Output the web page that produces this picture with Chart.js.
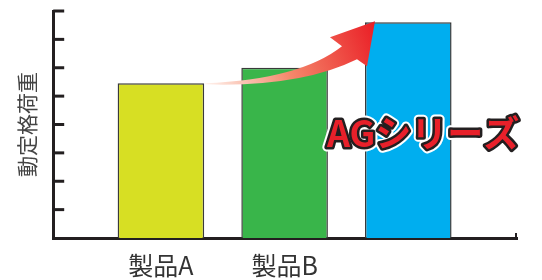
<!DOCTYPE html>
<html>
<head>
<meta charset="utf-8">
<script src="https://cdn.jsdelivr.net/npm/chart.js@4/dist/chart.umd.min.js"></script>
<style>
  html, body { margin: 0; padding: 0; background: #fff; }
  #wrap { width: 542px; height: 280px; }
</style>
</head>
<body>
<div id="wrap"><canvas id="chart"></canvas></div>
<script>
const categories = ['製品A', '製品B', ''];
const values = [5.45, 6.0, 7.6];
const barColors = ['#d7df23', '#39b54a', '#00aeef'];
const yTitle = '動定格荷重';
const badge = 'AGシリーズ';

const FONT = '"Noto Sans CJK JP", "Noto Sans", sans-serif';

// inward tick marks on the y axis + small end tick on x axis
const axisTicks = {
  id: 'axisTicks',
  afterDraw(chart) {
    const { ctx, chartArea, scales } = chart;
    const y = scales.y;
    ctx.save();
    ctx.strokeStyle = '#231f20';
    ctx.lineWidth = 3;
    y.ticks.forEach(t => {
      if (t.value === 0) return;
      const py = y.getPixelForValue(t.value);
      ctx.beginPath();
      ctx.moveTo(chartArea.left, py);
      ctx.lineTo(chartArea.left + 11, py);
      ctx.stroke();
    });
    ctx.lineWidth = 2;
    ctx.beginPath();
    ctx.moveTo(chartArea.right - 1, chartArea.bottom);
    ctx.lineTo(chartArea.right - 1, chartArea.bottom - 5);
    ctx.stroke();
    ctx.restore();
  }
};

// red arrow from bar A to bar C, and the series badge
const decor = {
  id: 'decor',
  afterDatasetsDraw(chart) {
    const { ctx, scales } = chart;
    const bars = chart.getDatasetMeta(0).data;
    const a = bars[0], c = bars[2];
    const tx = a.x + a.width / 2 + 1, ty = a.y;
    const px = c.x - c.width / 2 + 10, py = c.y - 1;

    ctx.save();
    const g = ctx.createLinearGradient(tx, ty, px, py);
    g.addColorStop(0, '#fff3ee');
    g.addColorStop(0.45, '#f4896c');
    g.addColorStop(1, '#ea1d25');
    ctx.fillStyle = g;
    ctx.beginPath();
    ctx.moveTo(tx, ty);
    ctx.quadraticCurveTo(tx + 95, ty - 4, px - 33, py + 25);
    ctx.lineTo(px - 45, py + 16);
    ctx.lineTo(px, py);
    ctx.lineTo(px - 8, py + 45);
    ctx.lineTo(px - 18, py + 38);
    ctx.quadraticCurveTo(tx + 95, ty + 4, tx, ty + 1);
    ctx.closePath();
    ctx.fill();
    ctx.restore();

    const bx = scales.x.getPixelForValue(2.12);
    const by = scales.y.getPixelForValue(3.7);
    ctx.save();
    ctx.font = 'bold 36px ' + FONT;
    ctx.textAlign = 'center';
    ctx.textBaseline = 'middle';
    ctx.lineJoin = 'round';
    ctx.strokeStyle = '#ffffff';
    ctx.lineWidth = 9;
    ctx.strokeText(badge, bx, by);
    ctx.strokeStyle = '#231f20';
    ctx.lineWidth = 5;
    ctx.strokeText(badge, bx, by);
    ctx.fillStyle = '#e8202a';
    ctx.fillText(badge, bx, by);
    ctx.restore();
  }
};

new Chart(document.getElementById('chart'), {
  type: 'bar',
  data: {
    datasets: [{
      data: values.map((v, i) => ({ x: i, y: v })),
      backgroundColor: barColors,
      borderColor: '#3a3a3a',
      borderWidth: 1.5,
      barPercentage: 0.7,
      categoryPercentage: 1
    }]
  },
  options: {
    responsive: true,
    maintainAspectRatio: false,
    animation: false,
    layout: { padding: { top: 11, right: 25, left: 0, bottom: -12 } },
    plugins: { legend: { display: false }, tooltip: { enabled: false } },
    scales: {
      x: {
        type: 'linear',
        offset: false,
        min: -0.871,
        max: 2.879,
        grid: { display: false, drawTicks: false, offset: false },
        border: { display: true, color: '#231f20', width: 3 },
        ticks: {
          stepSize: 1,
          includeBounds: false,
          autoSkip: false,
          maxRotation: 0,
          padding: 12,
          color: '#333',
          font: { family: FONT, size: 25, lineHeight: 1.2 },
          callback: v => Number.isInteger(v) ? (categories[v] || '') : ''
        }
      },
      y: {
        min: 0,
        max: 8,
        grid: { display: false, drawTicks: false },
        border: { display: true, color: '#231f20', width: 3 },
        ticks: { display: false, stepSize: 1 },
        title: {
          display: true,
          text: yTitle,
          color: '#444',
          padding: 14,
          font: { family: FONT, size: 21, lineHeight: 1.2 }
        }
      }
    }
  },
  plugins: [axisTicks, decor]
});
</script>
</body>
</html>
